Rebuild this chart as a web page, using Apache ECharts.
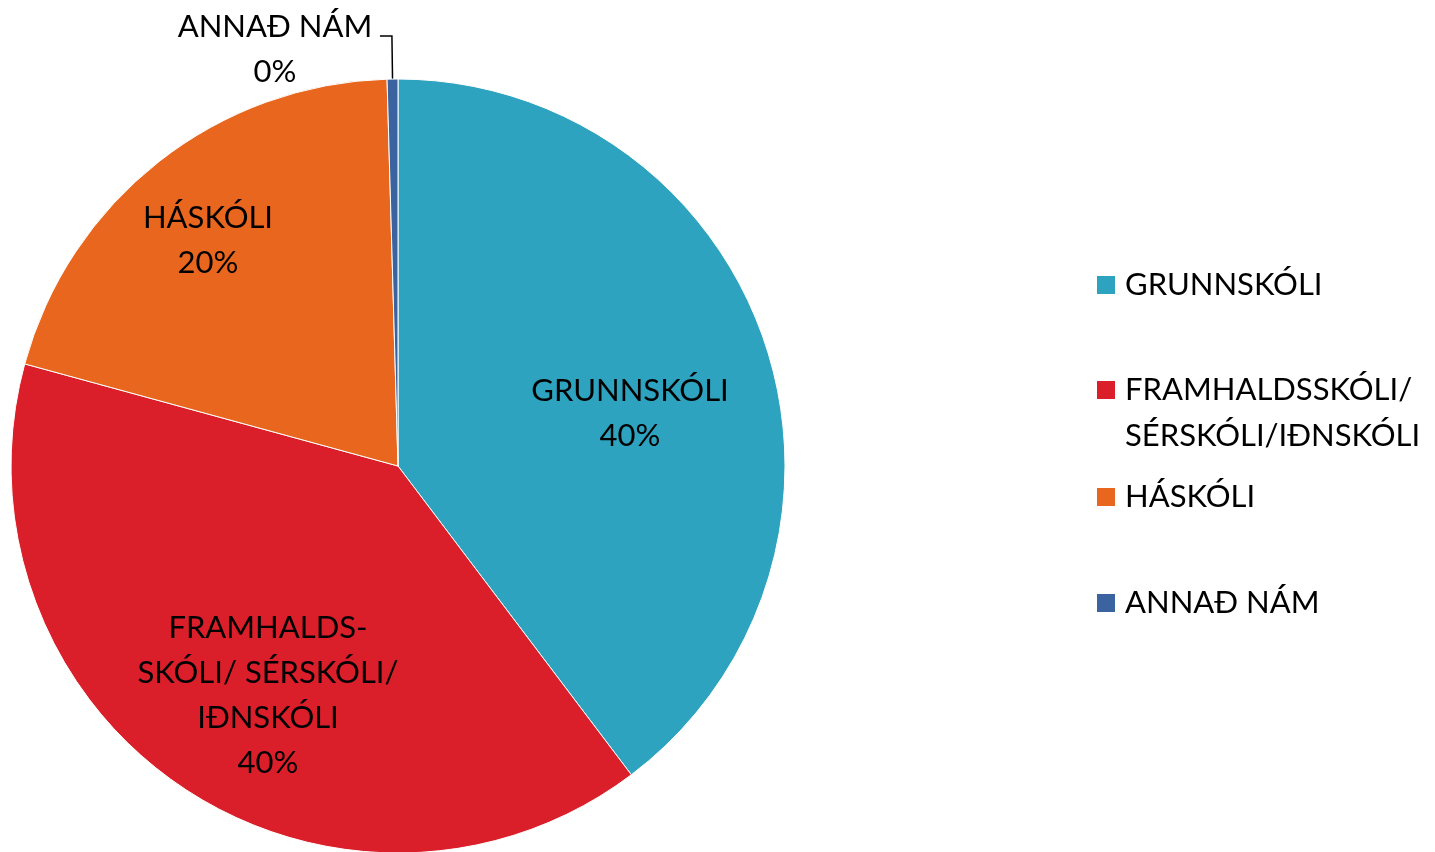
<!DOCTYPE html>
<html>
<head>
<meta charset="utf-8">
<script src="https://cdn.jsdelivr.net/npm/echarts@6/dist/echarts.min.js"></script>
<style>
  html, body { margin: 0; padding: 0; background: #fff; }
  #chart { width: 1435px; height: 852px; }
</style>
</head>
<body>
<div id="chart"></div>
<script>
// flokkar og gildi (hlutfall, %)
const categories = ['GRUNNSKÓLI', 'FRAMHALDSSKÓLI/SÉRSKÓLI/IÐNSKÓLI', 'HÁSKÓLI', 'ANNAÐ NÁM'];
const values = [39.7, 39.55, 20.3, 0.45];
const sliceLabels = ['GRUNNSKÓLI', 'FRAMHALDS-\nSKÓLI/ SÉRSKÓLI/\nIÐNSKÓLI', 'HÁSKÓLI', 'ANNAÐ NÁM'];
// auð lína fremst svo táknið standi við fyrstu línuna
const legendLabels = ['GRUNNSKÓLI', ' \nFRAMHALDSSKÓLI/\nSÉRSKÓLI/IÐNSKÓLI', 'HÁSKÓLI', 'ANNAÐ NÁM'];
const colors = ['#2DA3BF', '#DA1F2A', '#E9661E', '#3A63A0'];

const FONT = 'Lato';
const CX = 398, CY = 466, R = 387;
// miðja merkimiða miðað við miðju kökunnar (px)
const labelTargets = [[232, -53], [-130, 229], [-190, -226]];

const chart = echarts.init(document.getElementById('chart'));

// ein skýring fyrir hvern flokk svo bilin verði eins og í frumritinu
const legendTops = [262, 321, 474, 580];
const legends = categories.map((name, i) => ({
  data: [name],
  orient: 'vertical',
  left: 1095,
  top: legendTops[i],
  padding: 0,
  itemWidth: 20,
  itemHeight: 20,
  icon: 'rect',
  selectedMode: false,
  formatter: () => legendLabels[i].split('\n').map(s => '{t|' + s + '}').join('\n'),
  textStyle: {
    fontFamily: FONT,
    fontSize: 31,
    lineHeight: 46,
    color: '#000',
    rich: {
      t: { fontFamily: FONT, fontSize: 31, lineHeight: 46, color: '#000', padding: [0, 0, 0, 4] }
    }
  }
}));

const option = {
  backgroundColor: '#fff',
  color: colors,
  animation: false,
  legend: legends,
  series: [{
    type: 'pie',
    center: [CX, CY],
    radius: R,
    startAngle: 90,
    clockwise: true,
    avoidLabelOverlap: false,
    data: categories.map((name, i) => {
      const item = { name: name, value: values[i] };
      if (i === 3) {
        item.label = {
          position: 'outside',
          formatter: (p) => '{s| }\n{a|' + sliceLabels[3] + '}\n{a|' + Math.round(p.percent) + '%}',
          rich: {
            s: { lineHeight: 27, fontSize: 10 },
            a: { width: 200, align: 'center', fontFamily: FONT, fontSize: 31, lineHeight: 45, color: '#000' }
          }
        };
        item.labelLine = { show: true, length: 43, length2: 12 };
      }
      return item;
    }),
    itemStyle: { borderColor: '#fff', borderWidth: 1 },
    label: {
      show: true,
      position: 'inside',
      fontFamily: FONT,
      fontSize: 31,
      lineHeight: 45,
      color: '#000',
      align: 'center',
      formatter: (p) => sliceLabels[p.dataIndex] + '\n' + Math.round(p.percent) + '%'
    },
    labelLine: {
      show: false,
      lineStyle: { color: '#000', width: 1.5 }
    },
    labelLayout: (p) => {
      const t = labelTargets[p.dataIndex];
      if (!t) return {};
      const lx = p.labelRect.x + p.labelRect.width / 2;
      const ly = p.labelRect.y + p.labelRect.height / 2;
      return { dx: CX + t[0] - lx, dy: CY + t[1] - ly };
    },
    emphasis: { disabled: true }
  }]
};

chart.setOption(option);
</script>
</body>
</html>
